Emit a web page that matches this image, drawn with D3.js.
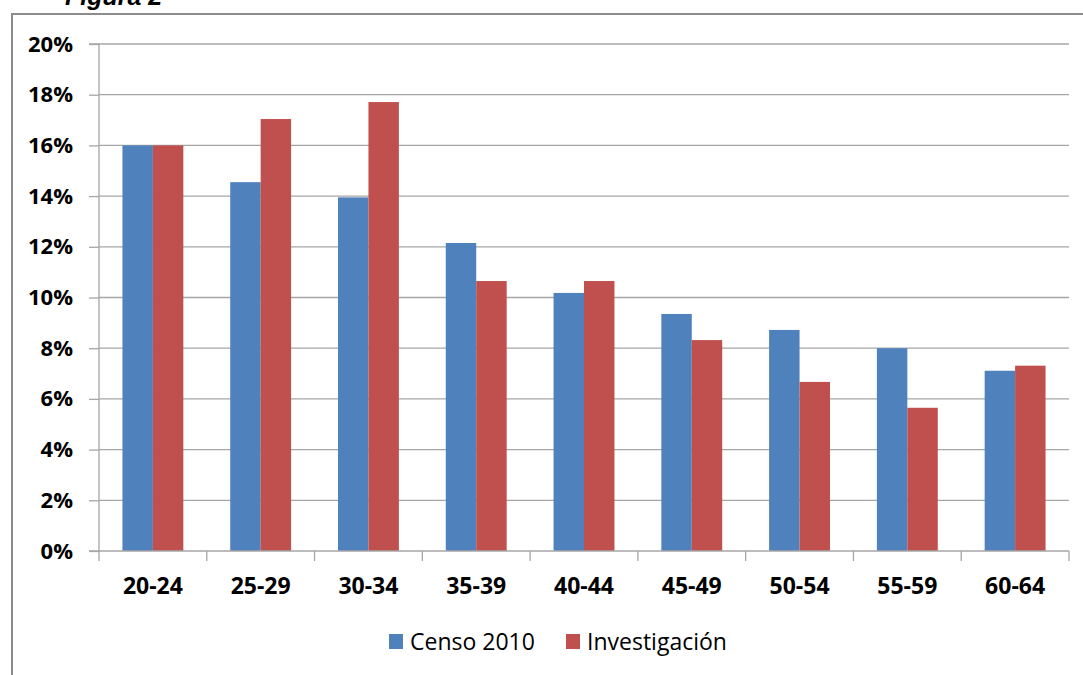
<!DOCTYPE html>
<html>
<head>
<meta charset="utf-8">
<script src="https://cdn.jsdelivr.net/npm/d3@7"></script>
<style>
  html, body { margin: 0; padding: 0; background: #fff; }
  svg { display: block; }
</style>
</head>
<body>
<svg id="chart"></svg>
<script>
// Figura 2 · age groups, share of population
const categories = ['20-24','25-29','30-34','35-39','40-44','45-49','50-54','55-59','60-64'];
const seriesNames = ['Censo 2010','Investigación'];
const censo = [16.0, 14.55, 13.95, 12.15, 10.18, 9.35, 8.72, 8.0, 7.11];
const investigacion = [16.0, 17.04, 17.71, 10.65, 10.65, 8.32, 6.67, 5.65, 7.31];
const yTicks = [0, 2, 4, 6, 8, 10, 12, 14, 16, 18, 20];

const COLORS = ['#4F81BD', '#C0504D'];
const W = 1083, H = 675;
const FONT = 'Open Sans, Lato, sans-serif';

const svg = d3.select('#chart').attr('width', W).attr('height', H);

// title, clipped at top like the scan
svg.append('text').attr('x', 65).attr('y', 5)
  .attr('font-family', 'Liberation Sans, Arial, sans-serif')
  .attr('font-weight', 'bold').attr('font-style', 'italic')
  .attr('font-size', '25px').attr('fill', '#000').text('Figura 2');

// chart frame
svg.append('path').attr('d', `M12,${H + 5} L12,14 L${W + 5},14`)
  .attr('fill', 'none').attr('stroke', '#8c8c8c').attr('stroke-width', 2);

const plot = { left: 99, right: 1069, top: 44, bottom: 551 };

const x = d3.scaleBand().domain(categories).range([plot.left, plot.right]).paddingInner(0).paddingOuter(0);
const xs = d3.scaleBand().domain(seriesNames).range([0, x.bandwidth()]).paddingInner(0).paddingOuter(0.77);
const y = d3.scaleLinear().domain([0, 20]).range([plot.bottom, plot.top]);

// gridlines
svg.append('g').selectAll('line').data(yTicks.filter(d => d > 0)).enter().append('line')
  .attr('x1', plot.left).attr('x2', plot.right)
  .attr('y1', d => y(d)).attr('y2', d => y(d))
  .attr('stroke', '#a6a6a6').attr('stroke-width', 1.3);

// bars
const rows = categories.map((c, i) => ({ cat: c, vals: [censo[i], investigacion[i]] }));
const groups = svg.append('g').selectAll('g').data(rows).enter().append('g')
  .attr('transform', d => `translate(${x(d.cat)},0)`);
groups.selectAll('rect').data(d => d.vals.map((v, j) => ({ name: seriesNames[j], v, j }))).enter().append('rect')
  .attr('x', d => xs(d.name)).attr('width', xs.bandwidth())
  .attr('y', d => y(d.v)).attr('height', d => y(0) - y(d.v))
  .attr('fill', d => COLORS[d.j]);

// y axis
const yAxis = svg.append('g').attr('transform', `translate(${plot.left},0)`)
  .call(d3.axisLeft(y).tickValues(yTicks).tickSize(10).tickPadding(16).tickFormat(d => d + '%'));
yAxis.select('.domain').attr('stroke', '#a6a6a6').attr('stroke-width', 1.3)
  .attr('d', `M-10,${plot.bottom}H0V${plot.top}H-10`);
yAxis.selectAll('.tick line').attr('stroke', '#a6a6a6').attr('stroke-width', 1.3);
yAxis.selectAll('.tick text').attr('font-family', FONT).attr('font-weight', 'bold')
  .attr('font-size', '22px').attr('fill', '#000');

// x axis
const xTickPos = d3.range(categories.length + 1).map(i => plot.left + i * x.bandwidth());
svg.append('line').attr('x1', plot.left).attr('x2', plot.right)
  .attr('y1', plot.bottom).attr('y2', plot.bottom)
  .attr('stroke', '#a6a6a6').attr('stroke-width', 1.3);
svg.append('g').selectAll('line').data(xTickPos).enter().append('line')
  .attr('x1', d => d).attr('x2', d => d)
  .attr('y1', plot.bottom).attr('y2', plot.bottom + 10)
  .attr('stroke', '#a6a6a6').attr('stroke-width', 1.3);
svg.append('g').selectAll('text').data(categories).enter().append('text')
  .attr('x', d => x(d) + x.bandwidth() / 2).attr('y', 594)
  .attr('text-anchor', 'middle')
  .attr('font-family', FONT).attr('font-weight', 'bold')
  .attr('font-size', '23px').attr('fill', '#000').text(d => d);

// legend
const legendItems = [{ name: seriesNames[0], x: 389 }, { name: seriesNames[1], x: 566 }];
const legend = svg.append('g').selectAll('g').data(legendItems).enter().append('g')
  .attr('transform', d => `translate(${d.x},634)`);
legend.append('rect').attr('width', 14).attr('height', 15)
  .attr('fill', (d, i) => COLORS[i]);
legend.append('text').attr('x', 21).attr('y', 16)
  .attr('font-family', FONT).attr('font-size', '23px').attr('fill', '#000')
  .text(d => d.name);
</script>
</body>
</html>
